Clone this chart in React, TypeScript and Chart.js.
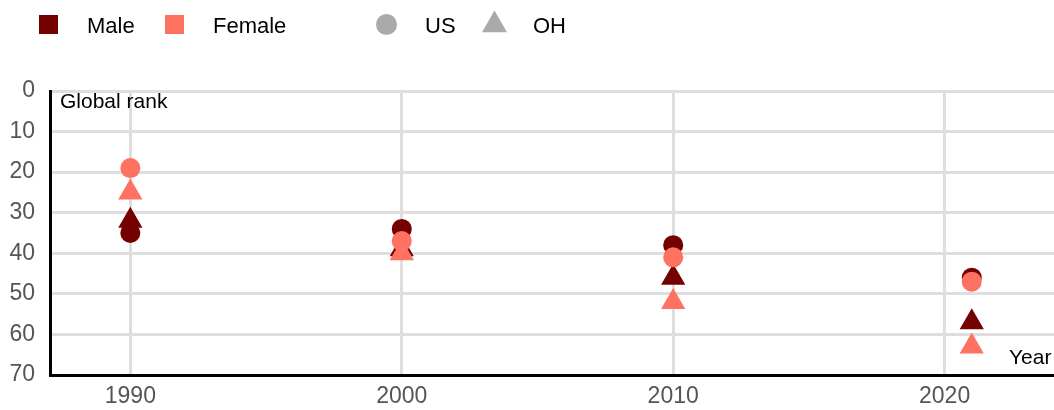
import React, { useEffect, useRef } from "react";
import { Chart, registerables } from "chart.js";

Chart.register(...registerables);

// ---- data ----
const years = [1990, 2000, 2010, 2021];
const maleUS = [35, 34, 38, 46];
const maleOH = [32, 39, 46, 57];
const femaleUS = [19, 37, 41, 47];
const femaleOH = [25, 40, 52, 63];
const xTickValues = [1990, 2000, 2010, 2020];
const yTickValues = [0, 10, 20, 30, 40, 50, 60, 70];
const sexLabels = ["Male", "Female"];
const placeLabels = ["US", "OH"];
const yTitle = "Global rank";
const xTitle = "Year";

// ---- style ----
const FONT = "'Liberation Sans', Arial, sans-serif";
const MALE = "#740000";
const FEMALE = "#ff7261";
const LEGEND_GRAY = "#aaaaaa";
const GRID = "#dedede";
const TICK_COLOR = "#555555";

function drawTriangle(ctx: CanvasRenderingContext2D, x: number, y: number, r: number) {
  ctx.beginPath();
  let rad = 0;
  ctx.moveTo(x + Math.sin(rad) * r, y - Math.cos(rad) * r);
  rad += (2 * Math.PI) / 3;
  ctx.lineTo(x + Math.sin(rad) * r, y - Math.cos(rad) * r);
  rad += (2 * Math.PI) / 3;
  ctx.lineTo(x + Math.sin(rad) * r, y - Math.cos(rad) * r);
  ctx.closePath();
  ctx.fill();
}

const decorPlugin = {
  id: "decor",
  afterDraw(chart: any) {
    const ctx: CanvasRenderingContext2D = chart.ctx;
    const area = chart.chartArea;
    ctx.save();
    // legend
    ctx.font = `22px ${FONT}`;
    ctx.textBaseline = "alphabetic";
    ctx.textAlign = "left";
    ctx.fillStyle = MALE;
    ctx.fillRect(39, 15, 19, 19);
    ctx.fillStyle = "#000";
    ctx.fillText(sexLabels[0], 87, 33);
    ctx.fillStyle = FEMALE;
    ctx.fillRect(165, 15, 19, 19);
    ctx.fillStyle = "#000";
    ctx.fillText(sexLabels[1], 213, 33);
    ctx.fillStyle = LEGEND_GRAY;
    ctx.beginPath();
    ctx.arc(386.5, 24.5, 10.5, 0, Math.PI * 2);
    ctx.fill();
    ctx.fillStyle = "#000";
    ctx.fillText(placeLabels[0], 425, 33);
    ctx.fillStyle = LEGEND_GRAY;
    drawTriangle(ctx, 494.5, 25, 14.4);
    ctx.fillStyle = "#000";
    ctx.fillText(placeLabels[1], 533, 33);

    // axis titles
    ctx.font = `21px ${FONT}`;
    ctx.fillStyle = "#000";
    ctx.fillText(yTitle, area.left + 10, area.top + 17);
    ctx.fillText(xTitle, area.right - 45, area.bottom - 11);
    ctx.restore();
  },
};

export default function App() {
  const ref = useRef<HTMLCanvasElement | null>(null);

  useEffect(() => {
    document.body.style.margin = "0";
    const canvas = ref.current;
    if (!canvas) return;
    const mk = (vals: number[]) => vals.map((v, i) => ({ x: years[i], y: v }));
    const chart = new Chart(canvas, {
      type: "scatter",
      data: {
        datasets: [
          {
            label: "Female US",
            data: mk(femaleUS),
            pointStyle: "circle",
            pointRadius: 10,
            pointHoverRadius: 10,
            backgroundColor: FEMALE,
            borderWidth: 0,
          },
          {
            label: "Female OH",
            data: mk(femaleOH),
            pointStyle: "triangle",
            pointRadius: 14,
            pointHoverRadius: 14,
            backgroundColor: FEMALE,
            borderWidth: 0,
          },
          {
            label: "Male US",
            data: mk(maleUS),
            pointStyle: "circle",
            pointRadius: 10,
            pointHoverRadius: 10,
            backgroundColor: MALE,
            borderWidth: 0,
          },
          {
            label: "Male OH",
            data: mk(maleOH),
            pointStyle: "triangle",
            pointRadius: 14,
            pointHoverRadius: 14,
            backgroundColor: MALE,
            borderWidth: 0,
          },
        ] as any,
      },
      options: {
        responsive: false,
        animation: false,
        events: [],
        layout: { autoPadding: false, padding: { top: 91, left: 0, right: 0, bottom: 0 } },
        plugins: {
          legend: { display: false },
          tooltip: { enabled: false },
        },
        scales: {
          x: {
            type: "linear",
            min: 1987.04,
            max: 2024.03,
            afterBuildTicks: (s: any) => {
              s.ticks = xTickValues.map((v) => ({ value: v }));
            },
            afterFit: (s: any) => {
              s.height = 35;
              s.paddingLeft = 0;
              s.paddingRight = 0;
            },
            grid: { color: GRID, lineWidth: 3, drawTicks: false },
            border: { color: "#000", width: 3 },
            ticks: {
              color: TICK_COLOR,
              font: { size: 23, family: FONT },
              padding: 8,
              maxRotation: 0,
              autoSkip: false,
              callback: (v: any) => String(v),
            },
          },
          y: {
            type: "linear",
            reverse: true,
            min: 0,
            max: 70,
            afterBuildTicks: (s: any) => {
              s.ticks = yTickValues.map((v) => ({ value: v }));
            },
            afterFit: (s: any) => {
              s.width = 50;
              s.paddingTop = 0;
              s.paddingBottom = 0;
            },
            grid: { color: GRID, lineWidth: 3, drawTicks: false },
            border: { color: "#000", width: 3 },
            ticks: {
              color: TICK_COLOR,
              font: { size: 23, family: FONT },
              padding: 15,
              autoSkip: false,
            },
          },
        },
      } as any,
      plugins: [decorPlugin],
    });
    return () => chart.destroy();
  }, []);

  return <canvas ref={ref} width={1054} height={410} style={{ display: "block" }} />;
}
